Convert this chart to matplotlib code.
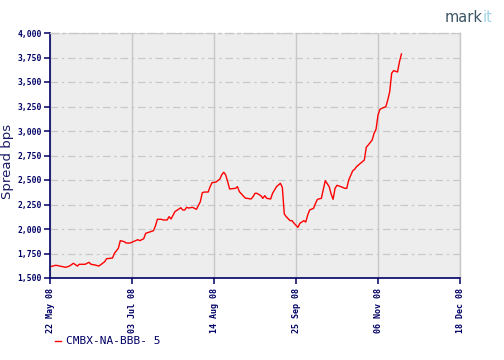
import numpy as np
import pandas as pd
import matplotlib
matplotlib.use("Agg")
import matplotlib.pyplot as plt
import matplotlib.dates as mdates

# CMBX-NA-BBB- 5 spread
dates = [
    "2008-05-22", "2008-05-25", "2008-05-27", "2008-05-30", "2008-06-01", "2008-06-03",
    "2008-06-05", "2008-06-06", "2008-06-09", "2008-06-11", "2008-06-12", "2008-06-14",
    "2008-06-16", "2008-06-17", "2008-06-19", "2008-06-20", "2008-06-23", "2008-06-24",
    "2008-06-26", "2008-06-27", "2008-06-29", "2008-06-30", "2008-07-02", "2008-07-04",
    "2008-07-06", "2008-07-07", "2008-07-09", "2008-07-10", "2008-07-12", "2008-07-14",
    "2008-07-15", "2008-07-16", "2008-07-18", "2008-07-19", "2008-07-21", "2008-07-22",
    "2008-07-23", "2008-07-25", "2008-07-27", "2008-07-28", "2008-07-29", "2008-07-30",
    "2008-07-31", "2008-08-01", "2008-08-03", "2008-08-04", "2008-08-05", "2008-08-07",
    "2008-08-08", "2008-08-09", "2008-08-11", "2008-08-12", "2008-08-13", "2008-08-15",
    "2008-08-17", "2008-08-18", "2008-08-19", "2008-08-20", "2008-08-21", "2008-08-22",
    "2008-08-23", "2008-08-25", "2008-08-26", "2008-08-27", "2008-08-29", "2008-08-30",
    "2008-09-02", "2008-09-03", "2008-09-04", "2008-09-05", "2008-09-07", "2008-09-08",
    "2008-09-09", "2008-09-10", "2008-09-12", "2008-09-13", "2008-09-15", "2008-09-17",
    "2008-09-18", "2008-09-19", "2008-09-20", "2008-09-22", "2008-09-23", "2008-09-24",
    "2008-09-26", "2008-09-27", "2008-09-29", "2008-09-30", "2008-10-01", "2008-10-02",
    "2008-10-04", "2008-10-05", "2008-10-06", "2008-10-08", "2008-10-09", "2008-10-10",
    "2008-10-12", "2008-10-13", "2008-10-14", "2008-10-15", "2008-10-16", "2008-10-18",
    "2008-10-20", "2008-10-21", "2008-10-22", "2008-10-24", "2008-10-25", "2008-10-26",
    "2008-10-28", "2008-10-30", "2008-10-31", "2008-11-01", "2008-11-03", "2008-11-04",
    "2008-11-05", "2008-11-06", "2008-11-07", "2008-11-08", "2008-11-10", "2008-11-11",
    "2008-11-12", "2008-11-13", "2008-11-14", "2008-11-15", "2008-11-16", "2008-11-17",
    "2008-11-18",
]
spread = [
    1615, 1630, 1622, 1609, 1622, 1650,
    1622, 1640, 1640, 1660, 1640, 1633,
    1622, 1636, 1666, 1697, 1704, 1752,
    1803, 1881, 1871, 1857, 1857, 1874,
    1891, 1881, 1901, 1956, 1969, 1983,
    2031, 2099, 2099, 2092, 2092, 2126,
    2102, 2177, 2204, 2217, 2194, 2194,
    2221, 2214, 2221, 2211, 2201, 2279,
    2370, 2377, 2377, 2432, 2473, 2479,
    2510, 2554, 2579, 2551, 2483, 2408,
    2411, 2415, 2432, 2381, 2337, 2316,
    2306, 2330, 2364, 2364, 2340, 2313,
    2340, 2313, 2306, 2364, 2432, 2466,
    2425, 2153, 2126, 2085, 2085, 2058,
    2017, 2058, 2085, 2071, 2143, 2194,
    2211, 2262, 2303, 2313, 2405, 2493,
    2432, 2357, 2303, 2415, 2446, 2432,
    2415, 2415, 2500, 2592, 2609, 2636,
    2670, 2704, 2834, 2857, 2908, 2977,
    3017, 3163, 3221, 3232, 3248, 3316,
    3401, 3589, 3616, 3609, 3602, 3707,
    3786,
]
xticks = ["2008-05-22", "2008-07-03", "2008-08-14", "2008-09-25", "2008-11-06", "2008-12-18"]
yticks = [1500, 1750, 2000, 2250, 2500, 2750, 3000, 3250, 3500, 3750, 4000]

navy = "#000066"

fig = plt.figure(figsize=(5.04, 3.6), dpi=100)
ax = fig.add_axes([50 / 504, 1 - 278 / 360, 410 / 504, 245 / 360])
ax.set_facecolor("#ededed")

x = pd.to_datetime(dates)
ax.plot(x, spread, color="red", lw=1.0)

ax.set_xlim(pd.Timestamp(xticks[0]), pd.Timestamp(xticks[-1]))
ax.set_ylim(1500, 4000)
ax.set_xticks(pd.to_datetime(xticks))
ax.xaxis.set_major_formatter(mdates.DateFormatter("%d %b %y"))
ax.set_yticks(yticks)
ax.set_yticklabels([f"{v:,}" for v in yticks])

ax.yaxis.grid(True, color="#c8c8c8", linestyle=(0, (6, 3, 2, 3)), lw=0.9)
ax.xaxis.grid(True, color="#c8c8c8", linestyle="-", lw=1.0)
ax.set_axisbelow(True)

for s in ["left", "bottom"]:
    ax.spines[s].set_color(navy)
    ax.spines[s].set_linewidth(1.2)
for s in ["top", "right"]:
    ax.spines[s].set_color("#c8c8c8")
    ax.spines[s].set_linewidth(1.0)
ax.spines["top"].set_linestyle((0, (6, 3, 2, 3)))

ax.tick_params(axis="both", colors=navy, length=4, width=1.1, direction="out",
               labelfontfamily="DejaVu Sans Mono")
ax.tick_params(axis="x", pad=3, labelsize=6)
ax.tick_params(axis="y", pad=2, labelsize=5.8)
plt.setp(ax.get_xticklabels(), rotation=90, va="top", ha="center")
for t in ax.get_xticklabels() + ax.get_yticklabels():
    t.set_fontweight("bold")

ax.set_ylabel("Spread bps", color="#1a1a66", fontsize=9.5)
ax.yaxis.set_label_coords(-36 / 410, 0.477)

# legend
fig.lines.append(plt.Line2D([55 / 504, 61 / 504], [1 - 341 / 360] * 2, color="red", lw=1,
                            transform=fig.transFigure))
fig.text(66 / 504, 1 - 341 / 360, "CMBX-NA-BBB- 5", color=navy, fontsize=8,
         family="DejaVu Sans Mono", va="center", ha="left")

# logo
logo = fig.text(445 / 504, 1 - 25 / 360, "mark", color="#3a5565", fontsize=10.5,
                va="bottom", ha="left")
ax.annotate("it", xy=(1, 0), xycoords=logo, color="#9fd3e6", fontsize=10.5,
            va="bottom", ha="left", annotation_clip=False)

fig.savefig("out.png", dpi=100)
